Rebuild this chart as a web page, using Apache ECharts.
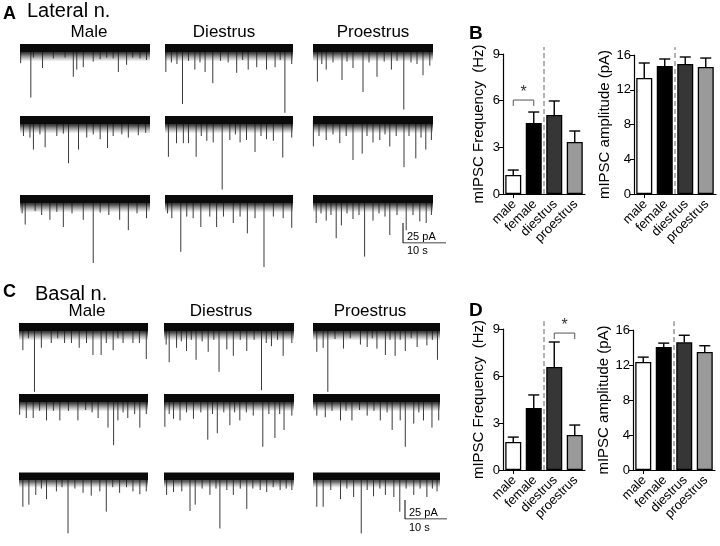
<!DOCTYPE html>
<html><head><meta charset="utf-8">
<script src="https://cdn.jsdelivr.net/npm/echarts@6/dist/echarts.min.js"></script>
<style>html,body{margin:0;padding:0;background:#fff}#c{width:720px;height:546px}</style>
</head><body><div id="c"></div>
<script>
// ---------- bar chart data ----------
const categories = ['male', 'female', 'diestrus', 'proestrus'];
const freqTicksMax = 9, freqInterval = 3;
const ampTicksMax = 16, ampInterval = 4;
const freqB = [1.22, 4.56, 5.08, 3.34];
const freqBUpper = [1.54, 5.27, 5.98, 4.05];
const ampB = [13.35, 14.73, 14.96, 14.62];
const ampBUpper = [15.08, 15.54, 15.77, 15.65];
const freqD = [1.79, 3.96, 6.57, 2.23];
const freqDUpper = [2.1, 4.79, 8.17, 2.87];
const ampD = [12.34, 14.05, 14.6, 13.5];
const ampDUpper = [12.9, 14.5, 15.4, 14.2];
const sigB = [0, 1, 6.04, 5.66];   // from cat, to cat, top, end
const sigD = [2, 3, 8.74, 8.36];
const barColors = ['#ffffff', '#000000', '#363636', '#9a9a9a'];

// ---------- trace data: events [time s, amplitude pA] ----------
const A_Male = [
 [[0.15,19],[2.5,62],[3.1,12],[5.2,25],[7.7,13],[10.4,12],[12.3,36],[13.1,27],[14.6,24],[16.9,17],[18.5,14],[20,12],[21.5,13],[22.7,30],[24.6,21],[26,12],[27.7,13],[29.2,15]],
 [[0.8,20],[2.3,22],[3.1,37],[4.6,18],[5.8,34],[8.5,20],[10,17],[11.2,54],[13.5,37],[15.4,22],[16.9,18],[18.5,24],[20.2,35],[21.5,20],[23.5,18],[25,22],[27.3,19],[29,16]],
 [[0.5,18],[1.2,32],[3.5,15],[5,20],[6.9,26],[8.5,16],[10,35],[12,18],[14.6,26],[16.9,80],[18.5,17],[20.5,20],[23,26],[25,39],[27,18],[29.2,24]]
];
const A_Diestrus = [
 [[0.2,30],[1.5,18],[2.8,20],[4.1,70],[5.5,16],[7,27],[8.2,18],[9.4,30],[11.2,44],[13,16],[14.8,18],[16.8,31],[18.2,15],[19.5,27],[21.5,24],[23.8,27],[25.8,24],[27,15],[28.1,81],[29.7,20]],
 [[0.8,46],[2.7,29],[4.3,29],[5.5,29],[7.3,46],[8.5,20],[9.8,26],[11.3,28],[13.4,87],[15.2,25],[16.5,18],[17.6,28],[19.1,25],[21.1,40],[22.5,20],[23.8,24],[25.4,26],[27.6,47],[29.7,22]],
 [[0.6,18],[1.6,24],[3.7,66],[5.1,22],[6.6,24],[8.4,35],[10.5,22],[12.1,35],[13.7,22],[16,30],[17.6,22],[19.3,43],[21.1,24],[23.2,85],[25.4,22],[27.7,24],[29.7,36]]
];
const A_Proestrus = [
 [[1.1,42],[2.2,20],[3.3,27],[5,18],[7.25,40],[8.5,17],[10,25],[12.5,55],[14,18],[16,36],[17.8,17],[19.6,27],[21,16],[22.7,77],[24.5,18],[26,20],[27.5,34],[29.2,22]],
 [[0.1,33],[1.5,20],[3.3,25],[5,18],[6.7,29],[8.3,20],[10,50],[12.3,42],[13.5,20],[15,28],[16.7,25],[18,18],[19.2,33],[20.8,20],[22.75,59],[24,20],[25.7,48],[27,22],[28.2,37],[29.6,25]],
 [[0.8,30],[2,18],[3.3,27],[4.5,20],[5.8,49],[7.1,33],[8.5,18],[10,25],[11.5,20],[12.9,72],[15,27],[16.5,18],[18,22],[19.2,45],[21,20],[23.3,39],[25,20],[26.7,28],[28.3,30],[29.6,20]]
];
const C_Male = [
 [[0.9,29],[2.2,14],[3.6,81],[5.2,26],[7.5,20],[9,14],[10.6,20],[12.2,20],[14,26],[15.7,20],[17.2,35],[19.1,35],[20.3,20],[21.9,29],[23,14],[24.2,20],[26.5,20],[28,20],[29.6,40]],
 [[0.15,21],[1.7,25],[3.3,25],[4.8,16],[6.4,28],[8,16],[9.5,28],[11.5,16],[13.7,28],[15.5,15],[17,18],[18.4,25],[20.7,37],[22,59],[23,28],[24.2,18],[25.3,25],[26.9,20],[28.1,37],[29.6,20]],
 [[0.9,44],[2.3,41],[3.9,27],[5.2,18],[6.4,33],[8.7,22],[10,16],[11.4,82],[13,18],[14.9,24],[16.8,28],[18.8,22],[20.3,51],[21.8,16],[23.4,24],[25,16],[26.5,22],[28.1,26],[29.6,22]]
];
const C_Diestrus = [
 [[0.5,22],[1.2,44],[2.9,26],[4,18],[5.2,30],[6.3,16],[7.4,41],[8.8,18],[10.2,31],[11.5,16],[12.7,56],[14.5,28],[16,36],[17.6,16],[19.1,30],[20.8,16],[22.5,79],[23.6,20],[24.8,24],[26.2,16],[27.5,36],[29.5,20]],
 [[0.2,36],[1.2,20],[2.2,26],[3.7,28],[5.2,18],[6.8,26],[8.5,18],[10.1,52],[11.2,20],[12.3,44],[13.8,18],[15.2,34],[16.3,18],[17.5,28],[19,18],[20.6,22],[22.8,61],[24.2,20],[25.6,50],[26.7,20],[27.7,40],[29.5,22]],
 [[0.6,27],[2.2,23],[4.1,22],[6,50],[7.2,41],[8.8,18],[10.6,27],[12,18],[12.9,75],[14.5,20],[16,27],[17.6,18],[19.1,47],[20.5,18],[22.2,20],[23.7,23],[25.2,16],[26.8,20],[28.2,18],[29.5,20]]
];
const C_Proestrus = [
 [[0.9,31],[2.4,26],[3.5,81],[5.2,15],[7.2,27],[8.8,14],[11.2,22],[12.8,25],[14,14],[15.1,27],[17.1,35],[18.2,16],[19.4,36],[20.6,16],[21.8,30],[23.2,14],[24.6,25],[26.9,23],[28.2,16],[29.4,41]],
 [[0.9,22],[2.9,24],[4.5,16],[6.5,28],[7.8,16],[9.2,28],[11,15],[12.8,22],[14.4,16],[15.9,28],[17.5,18],[18.7,40],[20.6,28],[21.8,61],[23.8,32],[25,18],[26.1,28],[28.1,37],[29.7,28]],
 [[0.9,44],[2.4,44],[4.2,20],[6.5,33],[8,18],[9.6,30],[11.4,82],[12.8,20],[14.3,29],[15.8,18],[17.1,27],[19.1,30],[20.5,51],[22,18],[23.8,27],[25.3,18],[26.9,30],[28.2,18],[29.3,22]]
];
const traceDuration = 30;        // s
const noiseBand = [5, -6, -17];  // pA: top of band, bottom of dense band, bottom of fringe
const scaleBarCurrent = 25;      // pA
const scaleBarTime = 10;         // s
const scaleLabels = ['25 pA', '10 s'];

// ---------- build ----------
const FONT = '"Liberation Sans", Arial, Helvetica, sans-serif';
const grids = [], xAxes = [], yAxes = [], series = [];
function addGrid(g, x, y) { grids.push(g); const i = grids.length - 1; x.gridIndex = i; y.gridIndex = i; xAxes.push(x); yAxes.push(y); return i; }

// traces
const PX_PER_PA = 0.8;
const Y_MIN = -100, Y_MAX = 10;
function addTrace(events, left, right, center) {
  const gi = addGrid(
    { left: left, top: center - Y_MAX * PX_PER_PA, width: right - left, height: (Y_MAX - Y_MIN) * PX_PER_PA },
    { type: 'value', min: 0, max: traceDuration, show: false },
    { type: 'value', min: Y_MIN, max: Y_MAX, show: false });
  // noise band (dense black core + grey fringe)
  series.push({ type: 'custom', xAxisIndex: gi, yAxisIndex: gi, data: [noiseBand], silent: true, animation: false, z: 3,
    renderItem: function (params, api) {
      const a = api.coord([0, api.value(0)]);
      const b = api.coord([traceDuration, api.value(1)]);
      const c = api.coord([traceDuration, api.value(2)]);
      return { type: 'group', children: [
        { type: 'rect', shape: { x: a[0], y: b[1], width: c[0] - a[0], height: c[1] - b[1] },
          style: { fill: new echarts.graphic.LinearGradient(0, 0, 0, 1, [{ offset: 0, color: 'rgba(20,20,20,0.85)' }, { offset: 1, color: 'rgba(80,80,80,0)' }]) } },
        { type: 'rect', shape: { x: a[0], y: a[1], width: c[0] - a[0], height: b[1] - a[1] }, style: { fill: '#0a0a0a' } }
      ] };
    } });
  series.push({ type: 'custom', xAxisIndex: gi, yAxisIndex: gi, data: events, silent: true, animation: false, z: 2,
    renderItem: function (params, api) {
      const p0 = api.coord([api.value(0), 0]);
      const p1 = api.coord([api.value(0), -api.value(1)]);
      return { type: 'line', shape: { x1: p0[0], y1: p0[1], x2: p1[0], y2: p1[1] }, style: { stroke: '#3a3a3a', lineWidth: 1 } };
    } });
}
const panelA = [A_Male, A_Diestrus, A_Proestrus];
const panelC = [C_Male, C_Diestrus, C_Proestrus];
const colA = [[20, 150], [165, 293], [313, 433]], rowA = [48, 120, 199];
const colC = [[19, 148], [164, 294], [313, 440]], rowC = [327, 398, 477];
panelA.forEach((cond, c) => cond.forEach((ev, r) => addTrace(ev, colA[c][0], colA[c][1], rowA[r])));
panelC.forEach((cond, c) => cond.forEach((ev, r) => addTrace(ev, colC[c][0], colC[c][1], rowC[r])));

// scale bars
function addScale(left, top, w, h) {
  const gi = addGrid({ left: left, top: top, width: w, height: h },
    { type: 'value', min: 0, max: scaleBarTime, show: false },
    { type: 'value', min: 0, max: scaleBarCurrent, show: false });
  series.push({ type: 'line', xAxisIndex: gi, yAxisIndex: gi, symbol: 'none', silent: true, animation: false,
    data: [[0, scaleBarCurrent], [0, 0], [scaleBarTime, 0]], lineStyle: { color: '#000', width: 1 } });
}
addScale(403, 223, 43, 20);
addScale(405, 500, 42, 19);

// bar charts
function addBars(left, top, height, values, upper, max, interval, name, topDash, sig) {
  const gi = addGrid({ left: left, top: top, width: 82, height: height },
    { type: 'category', data: categories, boundaryGap: true,
      axisLine: { show: true, lineStyle: { color: '#000', width: 1.2 } },
      axisTick: { show: true, alignWithLabel: true, length: 4, lineStyle: { color: '#000' } },
      axisLabel: { show: false } },
    { type: 'value', min: 0, max: max, interval: interval, splitLine: { show: false },
      axisLine: { show: true, lineStyle: { color: '#000', width: 1.2 } },
      axisTick: { show: true, length: 4, lineStyle: { color: '#000' } },
      axisLabel: { fontSize: 13, color: '#000', fontFamily: FONT, margin: 3 },
      name: name, nameLocation: 'middle', nameGap: 17, nameRotate: 90,
      nameTextStyle: { fontSize: 15, color: '#000', fontFamily: FONT } });
  series.push({ type: 'bar', xAxisIndex: gi, yAxisIndex: gi, barWidth: 16, animation: false,
    data: values.map((v, i) => ({ value: v, itemStyle: { color: barColors[i], borderColor: '#000', borderWidth: 1.3 } })) });
  // rotated category labels
  series.push({ type: 'custom', xAxisIndex: gi, yAxisIndex: gi, animation: false, clip: false, z: 5,
    data: categories.map((c, i) => [i, 0]),
    renderItem: function (params, api) {
      const p = api.coord([api.value(0), 0]);
      return { type: 'text', x: p[0] + 1, y: p[1] + 8, rotation: Math.PI / 4,
        style: { text: categories[params.dataIndex], align: 'right', verticalAlign: 'middle', fontSize: 13, fill: '#000', fontFamily: FONT } };
    } });
  series.push({ type: 'custom', xAxisIndex: gi, yAxisIndex: gi, animation: false, z: 5,
    data: values.map((v, i) => [i, v, upper[i]]),
    renderItem: function (params, api) {
      const a = api.coord([api.value(0), api.value(1)]);
      const b = api.coord([api.value(0), api.value(2)]);
      return { type: 'group', children: [
        { type: 'line', shape: { x1: a[0], y1: a[1], x2: b[0], y2: b[1] }, style: { stroke: '#000', lineWidth: 1.4 } },
        { type: 'line', shape: { x1: b[0] - 5.5, y1: b[1], x2: b[0] + 5.5, y2: b[1] }, style: { stroke: '#000', lineWidth: 1.4 } }
      ] };
    } });
  series.push({ type: 'custom', xAxisIndex: gi, yAxisIndex: gi, animation: false, z: 1, data: [[1, topDash]],
    renderItem: function (params, api) {
      const p1 = api.coord([1, 0]), p2 = api.coord([2, 0]);
      const t = api.coord([1, api.value(1)]);
      const x = (p1[0] + p2[0]) / 2;
      return { type: 'line', shape: { x1: x, y1: p1[1], x2: x, y2: t[1] }, style: { stroke: '#666', lineWidth: 1, lineDash: [5, 3] } };
    } });
  if (sig) {
    series.push({ type: 'custom', xAxisIndex: gi, yAxisIndex: gi, animation: false, z: 6, data: [sig],
      renderItem: function (params, api) {
        const a = api.coord([api.value(0), api.value(3)]);
        const b = api.coord([api.value(0), api.value(2)]);
        const c = api.coord([api.value(1), api.value(2)]);
        const d = api.coord([api.value(1), api.value(3)]);
        return { type: 'group', children: [
          { type: 'polyline', shape: { points: [a, b, c, d] }, style: { stroke: '#555', lineWidth: 1, fill: null } },
          { type: 'text', style: { text: '*', x: (b[0] + c[0]) / 2, y: b[1] + 1, align: 'center', verticalAlign: 'bottom', fontSize: 16, fill: '#333', fontFamily: FONT } }
        ] };
      } });
  }
}
addBars(503, 54, 140, freqB, freqBUpper, freqTicksMax, freqInterval, 'mIPSC Frequency  (Hz)', 9.45, sigB);
addBars(634, 55, 139, ampB, ampBUpper, ampTicksMax, ampInterval, 'mIPSC amplitude (pA)', 16.9, null);
addBars(503, 329, 141, freqD, freqDUpper, freqTicksMax, freqInterval, 'mIPSC Frequency  (Hz)', 9.5, sigD);
addBars(633, 330, 140, ampD, ampDUpper, ampTicksMax, ampInterval, 'mIPSC amplitude (pA)', 17, null);

function txt(s, x, y, size, bold, align) {
  return { type: 'text', x: x, y: y, silent: true,
    style: { text: s, fontSize: size, fontWeight: bold ? 'bold' : 'normal', fontFamily: FONT, fill: '#000', align: align || 'left', verticalAlign: 'middle' } };
}
const graphics = [
  txt('A', 3, 14, 18, true), txt('Lateral n.', 27, 11, 20, false),
  txt('Male', 89, 32, 17, false, 'center'), txt('Diestrus', 224, 32, 17, false, 'center'), txt('Proestrus', 373, 32, 17, false, 'center'),
  txt('B', 469, 34, 19, true),
  txt('C', 3, 292, 18, true), txt('Basal n.', 35, 294, 20, false),
  txt('Male', 87, 311, 17, false, 'center'), txt('Diestrus', 221, 311, 17, false, 'center'), txt('Proestrus', 370, 311, 17, false, 'center'),
  txt('D', 469, 311, 19, true),
  txt(scaleLabels[0], 407, 237, 11, false), txt(scaleLabels[1], 407, 251, 11, false),
  txt(scaleLabels[0], 409, 513, 11, false), txt(scaleLabels[1], 409, 528, 11, false)
];

const chart = echarts.init(document.getElementById('c'), null, { renderer: 'canvas' });
chart.setOption({ backgroundColor: '#fff', animation: false, grid: grids, xAxis: xAxes, yAxis: yAxes, series: series, graphic: graphics });
</script></body></html>
